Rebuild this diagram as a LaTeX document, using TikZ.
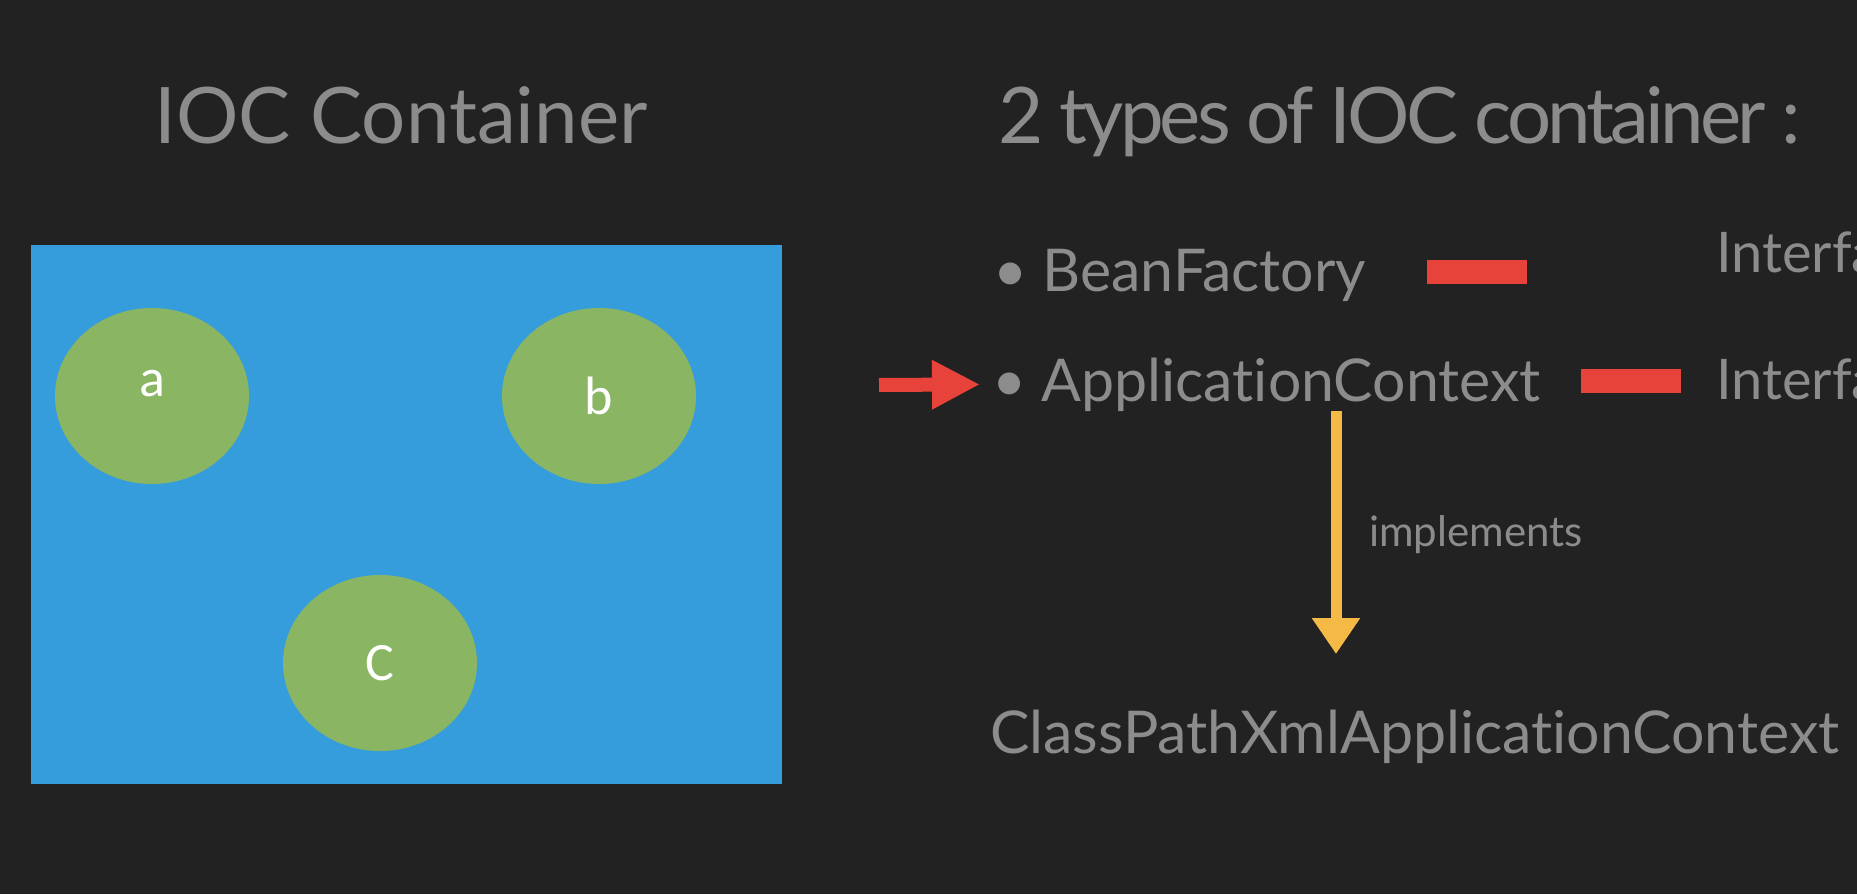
\documentclass[tikz,border=0pt]{standalone}
\usepackage{fontspec}
\setmainfont[Ligatures=NoCommon]{Lato}
\newfontfamily\tightfont[Ligatures=NoCommon, LetterSpace=-5]{Lato}
\newfontfamily\beanfont{Carlito}
\usetikzlibrary{arrows.meta,positioning,shapes.geometric}

\definecolor{slidebg}{HTML}{222222}
\definecolor{slidegrey}{HTML}{8C8C8C}
\definecolor{boxblue}{HTML}{359DDB}
\definecolor{beangreen}{HTML}{8AB563}
\definecolor{markred}{HTML}{E8433A}
\definecolor{chalkyellow}{HTML}{F5BA45}

\tikzset{
  heading/.style={anchor=base west, inner sep=0pt, text=slidegrey,
    font=\fontsize{78}{90}\selectfont},
  item/.style={anchor=base west, inner sep=0pt, text=slidegrey,
    font=\fontsize{59}{70}\selectfont},
  bean/.style={ellipse, fill=beangreen, minimum width=194pt, minimum height=176pt,
    inner sep=0pt, text=white, font=\beanfont\fontsize{54}{60}\selectfont},
  redbar/.style={fill=markred, minimum width=100pt, minimum height=24pt, inner sep=0pt},
}

\begin{document}
\begin{tikzpicture}[x=1pt, y=-1pt, >=Stealth]
  \useasboundingbox (0,0) rectangle (1857,894);
  \clip (0,0) rectangle (1857,894);
  \fill[slidebg] (0,0) rectangle (1857,894);

  % left side: the container with its beans
  \node[heading] (title) at (154,143) {IOC Container};
  \fill[boxblue] (31,245) rectangle (782,784);
  \node[bean] (beana) at (152,396) {\raisebox{26pt}{a}};
  \node[bean] (beanb) at (599,396) {b};
  \node[bean] (beanc) at (380,663) {C};

  % right side: the two kinds
  \node[heading, font=\tightfont\fontsize{78}{90}\selectfont] (types) at (998,143)
    {2 types of IOC container :};
  \node[item] (bean) at (993,291) {\textbullet\ BeanFactory};
  \node[item] (appctx) at (992,401) {\textbullet\ ApplicationContext};
  \node[redbar] (bar1) at (1477,272) {};
  \node[redbar] (bar2) at (1631,381) {};
  \node[item, font=\fontsize{56}{66}\selectfont] (iface1) at (1716,272) {Interface};
  \node[item, font=\fontsize{56}{66}\selectfont] (iface2) at (1716,399) {Interface};

  \coordinate (rtail) at (879,385);
  \draw[markred, line width=14pt, -{Triangle[length=48pt, width=46pt]}, shorten >=12pt]
    (rtail) -- (appctx.west);

  \node[anchor=base west, inner sep=0pt, text=slidegrey,
    font=\fontsize{42}{50}\selectfont] (impl) at (1369,546) {implements};
  \node[item] (cls) at (990,753) {ClassPathXmlApplicationContext};

  \coordinate (ytip) at (1336,654);
  \draw[chalkyellow, line width=11pt, -{Triangle[length=36pt, width=46pt]}]
    (appctx.south -| ytip) -- (ytip);
\end{tikzpicture}
\end{document}
